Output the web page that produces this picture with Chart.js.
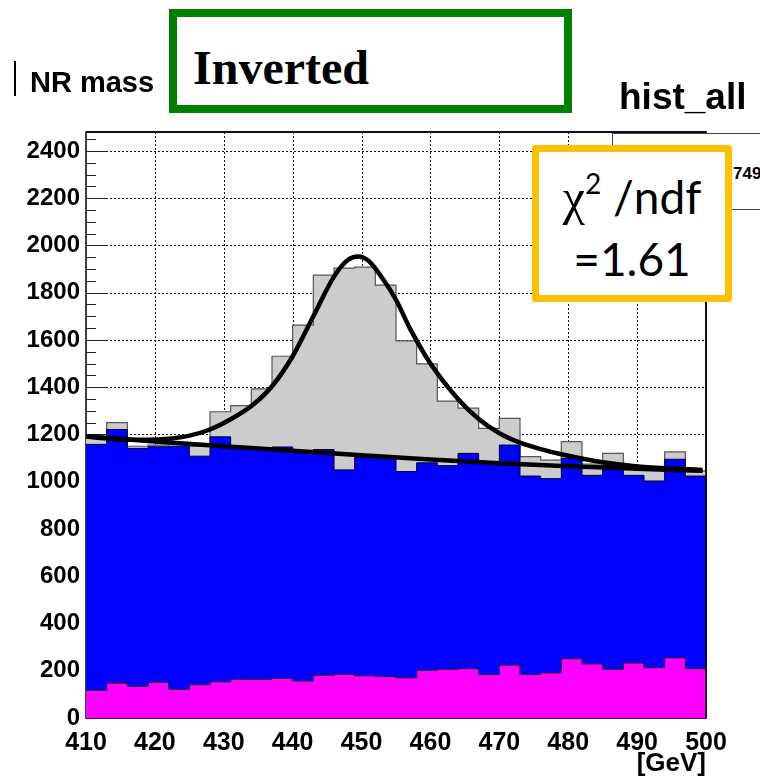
<!DOCTYPE html>
<html><head><meta charset="utf-8">
<script src="https://cdn.jsdelivr.net/npm/chart.js@4.4.0/dist/chart.umd.min.js"></script>
<style>
html,body{margin:0;padding:0;background:#fff;}
#wrap{position:relative;width:760px;height:779px;overflow:hidden;background:#fff;}
#chartBox{position:absolute;left:0;top:0;width:760px;height:779px;}
.ov{position:absolute;white-space:nowrap;line-height:1;color:#000;}
</style></head><body>
<div id="wrap">
  <div id="chartBox"><canvas id="c"></canvas></div>
  <div class="ov" style="left:14px;top:61px;width:2px;height:35px;background:#000"></div>
  <div class="ov" style="left:30px;top:66px;font:bold 29px 'Liberation Sans',Arial,sans-serif;">NR mass</div>
  <div class="ov" style="left:169px;top:9px;width:403px;height:104px;box-sizing:border-box;border:8px solid #008000;background:#fff;"></div>
  <div class="ov" style="left:193px;top:40px;font:bold 48px 'Liberation Serif','Times New Roman',serif;">Inverted</div>
  <div class="ov" style="left:619px;top:76px;font:bold 37px 'Liberation Sans',Arial,sans-serif;">hist_all</div>
  <div class="ov" style="left:612px;top:133px;width:160px;height:77px;box-sizing:border-box;border:1px solid #444;background:#fff;"></div>
  <div class="ov" style="left:733px;top:164px;font:bold 17px 'Liberation Sans',Arial,sans-serif;">749</div>
  <div class="ov" style="left:532px;top:145px;width:200px;height:157px;box-sizing:border-box;border:7px solid #FFC000;border-radius:3px;background:#fff;"></div>
  <div class="ov" style="left:532px;width:200px;top:168px;text-align:center;font:46px Lato,'Noto Sans',sans-serif;"><span style="font-family:'Liberation Serif',serif;font-size:50px;">χ</span><sup style="font-size:28px;line-height:0;vertical-align:0;position:relative;top:-20px;">2</sup> /ndf</div>
  <div class="ov" style="left:532px;width:200px;top:231px;text-align:center;font:46px Lato,'Noto Sans',sans-serif;">=1.61</div>
</div>
<script>
// ---- data ----
const binLow = [410,413,416,419,422,425,428,431,434,437,440,443,446,449,452,455,458,461,464,467,470,473,476,479,482,485,488,491,494,497];
const binEnd = 500;
// total (grey) histogram
const totalCounts = [1190,1250,1150,1155,1165,1150,1296,1322,1393,1531,1663,1874,1904,1908,1832,1596,1499,1341,1311,1226,1268,1106,1091,1170,1075,1120,1060,1050,1126,1046];
// blue background component (stacked on magenta)
const bkgBlue = [1041,1073,1007,997,1028,967,1037,981,976,979,971,955,865,924,928,873,878,862,911,896,931,840,822,848,798,864,794,790,840,815];
// magenta background component
const bkgMagenta = [117,148,134,151,122,141,153,164,164,168,157,181,185,179,175,170,202,206,209,184,224,184,191,251,229,206,233,213,255,209];
// fit curves
const fitSigX = [410,413,416,419,422,425,428,431,434,437,440,443,446,448,449.5,451,453,455,457,460,464,467,470,473,476,479,485,491,499.5];
const fitSigY = [1191,1183,1178,1178,1182,1195,1221,1264,1320,1404,1531,1700,1868,1938,1953,1935,1862,1770,1650,1500,1350,1265,1205,1165,1138,1116,1082,1062,1050];
const fitBkgX = [410,420,430,440,450,460,470,480,490,499.5];
const fitBkgY = [1192,1170,1150,1131,1112,1094,1078,1065,1055,1046];
// axes
const xTicks = [410,420,430,440,450,460,470,480,490,500];
const yTicks = [0,200,400,600,800,1000,1200,1400,1600,1800,2000,2200,2400];
const yMax = 2480;

function stepData(vals){
  const pts = binLow.map((x,i)=>({x:x, y:vals[i]}));
  pts.push({x:binEnd, y:vals[vals.length-1]});
  return pts;
}
const blueStack = bkgMagenta.map((m,i)=>m+bkgBlue[i]);

const rootAxes = {
  id:'rootAxes',
  beforeDatasetsDraw(chart){
    const {ctx, chartArea:a, scales:{x,y}} = chart;
    ctx.save();
    ctx.strokeStyle='#111'; ctx.lineWidth=1; ctx.setLineDash([2,2]);
    yTicks.forEach(v=>{
      if(v<=0) return;
      const py=Math.round(y.getPixelForValue(v))+0.5;
      ctx.beginPath(); ctx.moveTo(a.left,py); ctx.lineTo(a.right,py); ctx.stroke();
    });
    xTicks.forEach(v=>{
      if(v<=xTicks[0]||v>=xTicks[xTicks.length-1]) return;
      const px=Math.round(x.getPixelForValue(v))+0.5;
      ctx.beginPath(); ctx.moveTo(px,a.top); ctx.lineTo(px,a.bottom); ctx.stroke();
    });
    ctx.setLineDash([]);
    ctx.strokeStyle='#222';
    for(let v=50; v<yMax; v+=50){
      const py=Math.round(y.getPixelForValue(v))+0.5;
      const len=(v%200===0)?20:10;
      ctx.beginPath(); ctx.moveTo(a.left,py); ctx.lineTo(a.left+len,py); ctx.stroke();
    }
    ctx.strokeStyle='#000'; ctx.lineWidth=1.5;
    ctx.strokeRect(a.left, a.top, a.right-a.left, a.bottom-a.top);
    ctx.restore();
  },
  afterDatasetsDraw(chart){
    const {ctx, chartArea:a} = chart;
    ctx.save();
    ctx.strokeStyle='#600060'; ctx.lineWidth=1;
    ctx.beginPath(); ctx.moveTo(a.left,a.bottom+0.5); ctx.lineTo(a.right,a.bottom+0.5); ctx.stroke();
    ctx.strokeStyle='#000'; ctx.lineWidth=1.5;
    ctx.beginPath(); ctx.moveTo(a.right,a.top); ctx.lineTo(a.right,a.bottom); ctx.stroke();
    ctx.beginPath(); ctx.moveTo(a.left,a.top); ctx.lineTo(a.right,a.top); ctx.stroke();
    ctx.restore();
  }
};

const tickFont = {family:"'Liberation Sans', Arial, sans-serif", weight:'bold', size:24};

new Chart(document.getElementById('c'), {
  type:'line',
  data:{
    datasets:[
      {label:'fit', data:fitSigX.map((x,i)=>({x:x,y:fitSigY[i]})), borderColor:'#000', borderWidth:4.5, pointRadius:0, fill:false, cubicInterpolationMode:'monotone', order:1},
      {label:'fit bkg', data:fitBkgX.map((x,i)=>({x:x,y:fitBkgY[i]})), borderColor:'#000', borderWidth:4.5, pointRadius:0, fill:false, cubicInterpolationMode:'monotone', order:2},
      {label:'bkg magenta', data:stepData(bkgMagenta), stepped:true, fill:'origin', backgroundColor:'#ff00ff', borderColor:'#1a001a', borderWidth:1, pointRadius:0, borderJoinStyle:'miter', order:3},
      {label:'bkg blue', data:stepData(blueStack), stepped:true, fill:'origin', backgroundColor:'#0000ff', borderColor:'#00002a', borderWidth:1, pointRadius:0, borderJoinStyle:'miter', order:4},
      {label:'hist_all', data:stepData(totalCounts), stepped:true, fill:'origin', backgroundColor:'#cccccc', borderColor:'#555555', borderWidth:1.2, pointRadius:0, borderJoinStyle:'miter', order:5}
    ]
  },
  options:{
    responsive:true, maintainAspectRatio:false, animation:false, devicePixelRatio:1,
    layout:{padding:{top:132,right:54,left:0,bottom:0}},
    plugins:{legend:{display:false}, tooltip:{enabled:false}},
    scales:{
      x:{type:'linear', min:410, max:500,
        afterBuildTicks:s=>{ s.ticks = xTicks.map(v=>({value:v})); },
        afterFit:s=>{ s.height=61; s.paddingLeft=0; s.paddingRight=0; },
        grid:{display:false, drawTicks:false}, border:{display:false},
        ticks:{color:'#000', font:{...tickFont, size:25}, padding:10, maxRotation:0, autoSkip:false, callback:v=>String(v)},
        title:{display:true, text:'[GeV]', align:'end', color:'#000', font:{...tickFont, size:26}, padding:{top:0,bottom:0}}
      },
      y:{type:'linear', min:0, max:yMax,
        afterBuildTicks:s=>{ s.ticks = yTicks.map(v=>({value:v})); },
        afterFit:s=>{ s.width=86; s.paddingTop=0; s.paddingBottom=0; },
        grid:{display:false, drawTicks:false}, border:{display:false},
        ticks:{color:'#000', font:tickFont, padding:6, autoSkip:false, callback:v=>String(v)}
      }
    }
  },
  plugins:[rootAxes]
});
</script>
</body></html>
